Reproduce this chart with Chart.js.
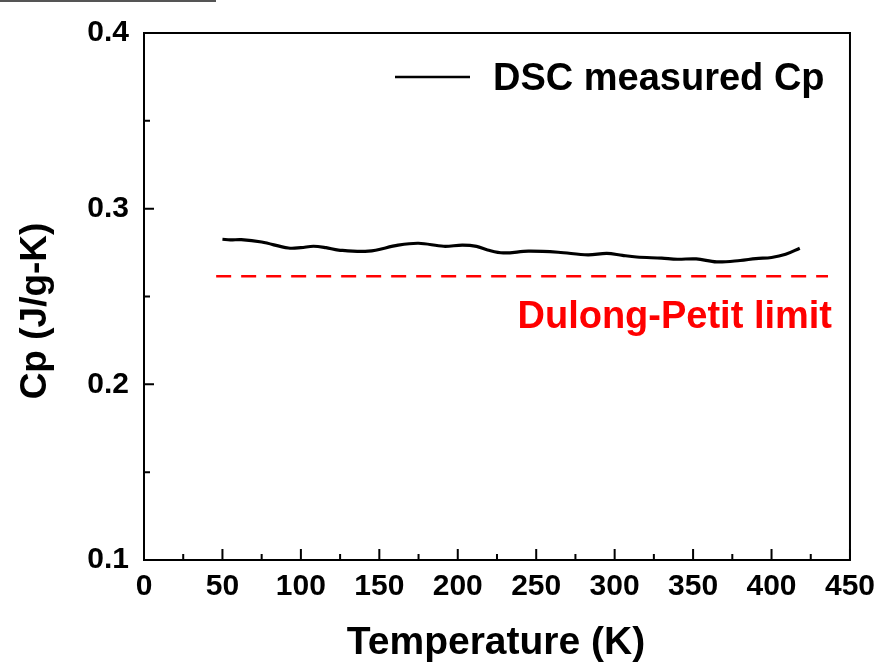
<!DOCTYPE html>
<html>
<head>
<meta charset="utf-8">
<script src="https://cdn.jsdelivr.net/npm/chart.js@4.4.1/dist/chart.umd.min.js"></script>
<style>
  html, body { margin: 0; padding: 0; background: #fff; }
  #wrap { width: 884px; height: 666px; position: relative; }
</style>
</head>
<body>
<div id="wrap"><canvas id="cp"></canvas></div>
<script>
// measured heat capacity
const tempK = [50, 55, 62, 75, 92, 100, 108, 116, 124, 143, 162, 175, 191, 203, 212, 219, 229, 245, 264, 283, 295, 305, 314, 330, 340, 352, 365, 380, 390, 400, 409, 418];
const cpMeasured = [0.2826, 0.2822, 0.2824, 0.2810, 0.2776, 0.2778, 0.2786, 0.2778, 0.2764, 0.2758, 0.2792, 0.2803, 0.2786, 0.2792, 0.2785, 0.2765, 0.2748, 0.2758, 0.2752, 0.2737, 0.2746, 0.2734, 0.2725, 0.2718, 0.2712, 0.2714, 0.2697, 0.2705, 0.2716, 0.2722, 0.2740, 0.2775];

// Dulong-Petit reference line
const dpTemp = [46, 436];
const dpCp = [0.2615, 0.2615];

const xTicks = [0, 50, 100, 150, 200, 250, 300, 350, 400, 450];
const yTicks = [0.1, 0.2, 0.3, 0.4];

const FONT = '"Liberation Sans", Arial, sans-serif';

const framePlugin = {
  id: 'frame',
  afterDraw(chart) {
    const ctx = chart.ctx;
    const a = chart.chartArea;
    const xs = chart.scales.x, ys = chart.scales.y;
    ctx.save();
    // stray rule at top-left of the original image
    ctx.strokeStyle = '#555';
    ctx.lineWidth = 2;
    ctx.beginPath(); ctx.moveTo(0, 1); ctx.lineTo(216, 1); ctx.stroke();

    // box
    ctx.strokeStyle = '#000';
    ctx.lineWidth = 2;
    ctx.strokeRect(a.left, a.top, a.right - a.left, a.bottom - a.top);

    // inward ticks, major + minor
    ctx.beginPath();
    for (let v = 0; v <= 450; v += 25) {
      const px = xs.getPixelForValue(v);
      const len = v % 50 === 0 ? 11 : 6;
      ctx.moveTo(px, a.bottom); ctx.lineTo(px, a.bottom - len);
    }
    for (let i = 0; i <= 6; i++) {
      const v = 0.1 + i * 0.05;
      const py = ys.getPixelForValue(v);
      const len = i % 2 === 0 ? 10 : 6;
      ctx.moveTo(a.left, py); ctx.lineTo(a.left + len, py);
    }
    ctx.stroke();

    // legend
    ctx.lineWidth = 2.5;
    ctx.beginPath(); ctx.moveTo(395, 77); ctx.lineTo(470, 77); ctx.stroke();
    ctx.fillStyle = '#000';
    ctx.font = 'bold 38px ' + FONT;
    ctx.textBaseline = 'alphabetic';
    ctx.textAlign = 'left';
    ctx.fillText('DSC measured Cp', 493, 90);

    // annotation
    ctx.fillStyle = '#f00';
    ctx.textAlign = 'right';
    ctx.fillText('Dulong-Petit limit', 832, 328);

    // axis titles
    ctx.fillStyle = '#000';
    ctx.font = 'bold 39px ' + FONT;
    ctx.textAlign = 'center';
    ctx.fillText('Temperature (K)', 496, 654);
    ctx.font = 'bold 37px ' + FONT;
    ctx.translate(46, 311);
    ctx.rotate(-Math.PI / 2);
    ctx.fillText('Cp (J/g-K)', 0, 0);
    ctx.restore();
  }
};

new Chart(document.getElementById('cp'), {
  type: 'line',
  data: {
    datasets: [{
      label: 'DSC measured Cp',
      data: tempK.map((t, i) => ({ x: t, y: cpMeasured[i] })),
      borderColor: '#000',
      borderWidth: 3.2,
      pointRadius: 0,
      tension: 0.35
    }, {
      label: 'Dulong-Petit limit',
      data: dpTemp.map((t, i) => ({ x: t, y: dpCp[i] })),
      borderColor: '#f00',
      borderWidth: 2.5,
      borderDash: [15, 10],
      pointRadius: 0
    }]
  },
  options: {
    responsive: true,
    maintainAspectRatio: false,
    animation: false,
    layout: { padding: { top: 31, right: 30, left: 0, bottom: 0 } },
    plugins: { legend: { display: false }, tooltip: { enabled: false } },
    scales: {
      x: {
        type: 'linear', min: 0, max: 450,
        afterFit: s => { s.height = 106; },
        afterBuildTicks: s => { s.ticks = xTicks.map(v => ({ value: v })); },
        grid: { display: false, drawTicks: false },
        border: { display: false },
        ticks: { color: '#000', padding: 9, font: { family: FONT, size: 30, weight: 'bold' } }
      },
      y: {
        type: 'linear', min: 0.1, max: 0.4,
        afterFit: s => { s.width = 144; },
        afterBuildTicks: s => { s.ticks = yTicks.map(v => ({ value: v })); },
        grid: { display: false, drawTicks: false },
        border: { display: false },
        ticks: {
          color: '#000', padding: 15, font: { family: FONT, size: 30, weight: 'bold' },
          callback: v => v.toFixed(1)
        }
      }
    }
  },
  plugins: [framePlugin]
});
</script>
</body>
</html>
